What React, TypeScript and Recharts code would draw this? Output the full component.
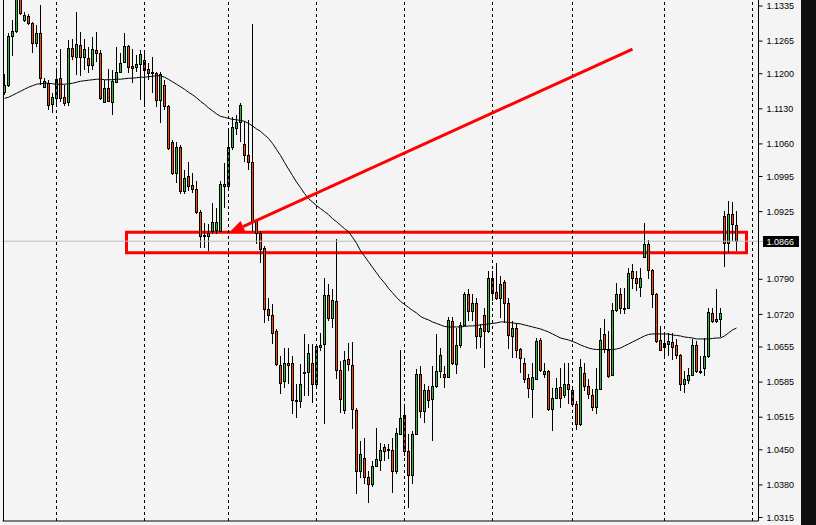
import { ComposedChart, Bar, Line, XAxis, YAxis, ReferenceLine, ReferenceArea } from 'recharts'

// EURUSD daily (oldest first)
const opens = [
  1.1163, 1.1177, 1.1275, 1.1285, 1.1352, 1.1307, 1.1315, 1.1301, 1.1261, 1.1281,
  1.1173, 1.1181, 1.1139, 1.1151, 1.1191, 1.1153, 1.1143, 1.1251, 1.1233, 1.1257,
  1.1233, 1.1231, 1.1217, 1.1247, 1.1241, 1.1143, 1.1171, 1.1143, 1.1183, 1.1203,
  1.1223, 1.1255, 1.1215, 1.1213, 1.1219, 1.1227, 1.1209, 1.1203, 1.1201, 1.1147,
  1.1177, 1.1135, 1.1063, 1.1001, 1.1053, 1.0967, 1.0997, 1.0979, 1.0971, 1.0925,
  1.0879, 1.0877, 1.0887, 1.0889, 1.0887, 1.0981, 1.0977, 1.1053, 1.1091, 1.1103,
  1.1059, 1.1037, 1.1023, 1.0907, 1.0883, 1.0853, 1.0731, 1.0719, 1.0687, 1.0619,
  1.0587, 1.0623, 1.0623, 1.0549, 1.0547, 1.0605, 1.0605, 1.0623, 1.0581, 1.0655,
  1.0661, 1.0759, 1.0713, 1.0747, 1.0609, 1.0529, 1.0631, 1.0619, 1.0529, 1.0407,
  1.0433, 1.0395, 1.0381, 1.0417, 1.0429, 1.0455, 1.0451, 1.0449, 1.0407, 1.0481,
  1.0519, 1.0447, 1.0399, 1.0481, 1.0601, 1.0527, 1.0569, 1.0551, 1.0577, 1.0607,
  1.0601, 1.0595, 1.0707, 1.0621, 1.0659, 1.0699, 1.0761, 1.0727, 1.0743, 1.0677,
  1.0719, 1.0687, 1.0793, 1.0765, 1.0753, 1.0785, 1.0743, 1.0677, 1.0693, 1.0651,
  1.0623, 1.0593, 1.0571, 1.0591, 1.0669, 1.0601, 1.0607, 1.0531, 1.0553, 1.0575,
  1.0559, 1.0581, 1.0569, 1.0541, 1.0501, 1.0603, 1.0577, 1.0559, 1.0535, 1.0571,
  1.0681, 1.0649, 1.0599, 1.0729, 1.0761, 1.0733, 1.0733, 1.0807, 1.0793, 1.0775,
  1.0835, 1.0861, 1.0809, 1.0761, 1.0669, 1.0655, 1.0661, 1.0665, 1.0659, 1.0639,
  1.0581, 1.0589, 1.0599, 1.0659, 1.0607, 1.0613, 1.0637, 1.0723, 1.0707, 1.0711,
  1.0917, 1.0863, 1.0921, 1.0899,
]

const highs = [
  1.1199, 1.1281, 1.1307, 1.1365, 1.1360, 1.1323, 1.1319, 1.1303, 1.1297, 1.1337,
  1.1191, 1.1187, 1.1161, 1.1205, 1.1249, 1.1177, 1.1267, 1.1269, 1.1323, 1.1283,
  1.1269, 1.1253, 1.1273, 1.1283, 1.1247, 1.1187, 1.1209, 1.1207, 1.1253, 1.1241,
  1.1281, 1.1257, 1.1249, 1.1237, 1.1247, 1.1241, 1.1221, 1.1233, 1.1203, 1.1203,
  1.1187, 1.1137, 1.1067, 1.1063, 1.1057, 1.1007, 1.1023, 1.1001, 1.0987, 1.0929,
  1.0903, 1.0901, 1.0943, 1.0933, 1.0987, 1.1021, 1.1091, 1.1113, 1.1117, 1.1141,
  1.1105, 1.1107, 1.1299, 1.0911, 1.0887, 1.0857, 1.0753, 1.0741, 1.0691, 1.0637,
  1.0653, 1.0653, 1.0637, 1.0581, 1.0621, 1.0681, 1.0661, 1.0661, 1.0661, 1.0683,
  1.0793, 1.0781, 1.0771, 1.0871, 1.0627, 1.0647, 1.0663, 1.0665, 1.0533, 1.0467,
  1.0473, 1.0407, 1.0427, 1.0493, 1.0463, 1.0461, 1.0461, 1.0473, 1.0493, 1.0649,
  1.0537, 1.0481, 1.0487, 1.0611, 1.0617, 1.0581, 1.0577, 1.0617, 1.0681, 1.0653,
  1.0617, 1.0715, 1.0715, 1.0693, 1.0705, 1.0765, 1.0771, 1.0761, 1.0753, 1.0701,
  1.0733, 1.0807, 1.0807, 1.0823, 1.0797, 1.0789, 1.0753, 1.0707, 1.0703, 1.0653,
  1.0633, 1.0601, 1.0623, 1.0673, 1.0673, 1.0623, 1.0609, 1.0573, 1.0593, 1.0613,
  1.0623, 1.0623, 1.0575, 1.0547, 1.0631, 1.0623, 1.0591, 1.0571, 1.0613, 1.0693,
  1.0711, 1.0687, 1.0743, 1.0783, 1.0773, 1.0773, 1.0813, 1.0821, 1.0807, 1.0813,
  1.0903, 1.0869, 1.0811, 1.0763, 1.0697, 1.0681, 1.0683, 1.0683, 1.0671, 1.0641,
  1.0607, 1.0613, 1.0671, 1.0667, 1.0637, 1.0673, 1.0733, 1.0733, 1.0771, 1.0733,
  1.0927, 1.0947, 1.0945, 1.0927,
]

const lows = [
  1.1157, 1.1173, 1.1235, 1.1281, 1.1318, 1.1303, 1.1297, 1.1241, 1.1253, 1.1177,
  1.1171, 1.1127, 1.1121, 1.1137, 1.1143, 1.1135, 1.1135, 1.1227, 1.1197, 1.1195,
  1.1207, 1.1201, 1.1207, 1.1223, 1.1147, 1.1143, 1.1145, 1.1117, 1.1181, 1.1201,
  1.1221, 1.1201, 1.1181, 1.1203, 1.1147, 1.1133, 1.1187, 1.1161, 1.1133, 1.1101,
  1.1127, 1.1047, 1.0999, 1.0983, 1.0961, 1.0961, 1.0967, 1.0963, 1.0921, 1.0853,
  1.0853, 1.0847, 1.0881, 1.0881, 1.0887, 1.0933, 1.0967, 1.1047, 1.1077, 1.1063,
  1.1023, 1.1007, 1.0887, 1.0861, 1.0823, 1.0703, 1.0707, 1.0661, 1.0617, 1.0561,
  1.0573, 1.0581, 1.0521, 1.0513, 1.0533, 1.0557, 1.0557, 1.0543, 1.0573, 1.0647,
  1.0501, 1.0707, 1.0693, 1.0591, 1.0523, 1.0521, 1.0607, 1.0491, 1.0361, 1.0393,
  1.0381, 1.0343, 1.0375, 1.0415, 1.0407, 1.0427, 1.0431, 1.0363, 1.0401, 1.0479,
  1.0437, 1.0333, 1.0381, 1.0479, 1.0513, 1.0503, 1.0533, 1.0467, 1.0573, 1.0593,
  1.0573, 1.0593, 1.0619, 1.0601, 1.0653, 1.0697, 1.0707, 1.0707, 1.0651, 1.0653,
  1.0613, 1.0683, 1.0747, 1.0749, 1.0713, 1.0703, 1.0651, 1.0633, 1.0633, 1.0603,
  1.0583, 1.0553, 1.0513, 1.0591, 1.0605, 1.0593, 1.0527, 1.0487, 1.0551, 1.0533,
  1.0553, 1.0541, 1.0537, 1.0489, 1.0497, 1.0567, 1.0551, 1.0527, 1.0521, 1.0569,
  1.0643, 1.0593, 1.0597, 1.0725, 1.0721, 1.0721, 1.0731, 1.0771, 1.0767, 1.0755,
  1.0833, 1.0791, 1.0733, 1.0663, 1.0647, 1.0631, 1.0637, 1.0629, 1.0631, 1.0567,
  1.0563, 1.0581, 1.0597, 1.0603, 1.0601, 1.0597, 1.0633, 1.0703, 1.0703, 1.0675,
  1.0815, 1.0843, 1.0867, 1.0847,
]

const closes = [
  1.1177, 1.1275, 1.1285, 1.1350, 1.1321, 1.1317, 1.1301, 1.1261, 1.1281, 1.1191,
  1.1185, 1.1137, 1.1153, 1.1189, 1.1151, 1.1141, 1.1251, 1.1235, 1.1259, 1.1233,
  1.1249, 1.1217, 1.1249, 1.1241, 1.1151, 1.1171, 1.1145, 1.1185, 1.1203, 1.1221,
  1.1255, 1.1213, 1.1211, 1.1219, 1.1239, 1.1207, 1.1201, 1.1201, 1.1147, 1.1199,
  1.1135, 1.1051, 1.1001, 1.1053, 1.0967, 1.0993, 1.0977, 1.0971, 1.0925, 1.0877,
  1.0877, 1.0883, 1.0905, 1.0905, 1.0981, 1.0977, 1.1053, 1.1093, 1.1103, 1.1137,
  1.1037, 1.1023, 1.0907, 1.0883, 1.0851, 1.0731, 1.0719, 1.0683, 1.0621, 1.0583,
  1.0623, 1.0619, 1.0549, 1.0547, 1.0581, 1.0605, 1.0643, 1.0581, 1.0657, 1.0659,
  1.0759, 1.0713, 1.0749, 1.0609, 1.0551, 1.0629, 1.0621, 1.0531, 1.0407, 1.0441,
  1.0395, 1.0381, 1.0417, 1.0431, 1.0449, 1.0447, 1.0451, 1.0407, 1.0483, 1.0513,
  1.0447, 1.0399, 1.0481, 1.0601, 1.0527, 1.0569, 1.0549, 1.0577, 1.0607, 1.0639,
  1.0595, 1.0709, 1.0623, 1.0659, 1.0699, 1.0761, 1.0727, 1.0743, 1.0677, 1.0693,
  1.0687, 1.0793, 1.0763, 1.0753, 1.0781, 1.0743, 1.0679, 1.0693, 1.0649, 1.0633,
  1.0591, 1.0573, 1.0595, 1.0667, 1.0609, 1.0607, 1.0531, 1.0553, 1.0573, 1.0553,
  1.0581, 1.0571, 1.0541, 1.0501, 1.0615, 1.0577, 1.0561, 1.0535, 1.0571, 1.0669,
  1.0651, 1.0597, 1.0729, 1.0761, 1.0733, 1.0733, 1.0803, 1.0793, 1.0783, 1.0793,
  1.0861, 1.0809, 1.0761, 1.0667, 1.0649, 1.0663, 1.0667, 1.0655, 1.0639, 1.0581,
  1.0591, 1.0599, 1.0659, 1.0607, 1.0605, 1.0637, 1.0725, 1.0707, 1.0711, 1.0723,
  1.0863, 1.0921, 1.0901, 1.0866,
]

// moving average line as drawn on the chart
const movingAvg = [
  1.1151, 1.1153, 1.1157, 1.1161, 1.1165, 1.1169, 1.1173, 1.1176, 1.1179, 1.1180,
  1.1181, 1.1181, 1.1180, 1.1179, 1.1179, 1.1179, 1.1180, 1.1181, 1.1183, 1.1185,
  1.1186, 1.1187, 1.1188, 1.1189, 1.1189, 1.1188, 1.1188, 1.1188, 1.1189, 1.1189,
  1.1190, 1.1191, 1.1191, 1.1192, 1.1193, 1.1193, 1.1194, 1.1195, 1.1196, 1.1196,
  1.1193, 1.1189, 1.1184, 1.1179, 1.1174, 1.1169, 1.1163, 1.1158, 1.1152, 1.1145,
  1.1139, 1.1132, 1.1126, 1.1120, 1.1115, 1.1113, 1.1111, 1.1109, 1.1108, 1.1107,
  1.1105, 1.1101, 1.1096, 1.1090, 1.1085, 1.1078, 1.1071, 1.1061, 1.1049, 1.1037,
  1.1023, 1.1010, 1.0997, 1.0984, 1.0973, 1.0961, 1.0951, 1.0944, 1.0937, 1.0931,
  1.0925, 1.0919, 1.0911, 1.0905, 1.0898, 1.0891, 1.0885, 1.0874, 1.0862, 1.0847,
  1.0836, 1.0825, 1.0814, 1.0803, 1.0792, 1.0783, 1.0772, 1.0763, 1.0754, 1.0746,
  1.0740, 1.0734, 1.0728, 1.0723, 1.0716, 1.0712, 1.0709, 1.0705, 1.0702, 1.0699,
  1.0696, 1.0695, 1.0695, 1.0695, 1.0695, 1.0696, 1.0697, 1.0697, 1.0698, 1.0699,
  1.0700, 1.0701, 1.0702, 1.0703, 1.0705, 1.0705, 1.0704, 1.0703, 1.0702, 1.0701,
  1.0699, 1.0697, 1.0695, 1.0693, 1.0691, 1.0688, 1.0685, 1.0681, 1.0677, 1.0673,
  1.0671, 1.0669, 1.0666, 1.0663, 1.0659, 1.0656, 1.0653, 1.0651, 1.0650, 1.0650,
  1.0650, 1.0650, 1.0650, 1.0651, 1.0653, 1.0657, 1.0661, 1.0665, 1.0669, 1.0673,
  1.0677, 1.0680, 1.0681, 1.0681, 1.0681, 1.0681, 1.0681, 1.0679, 1.0678, 1.0677,
  1.0675, 1.0674, 1.0673, 1.0671, 1.0671, 1.0671, 1.0671, 1.0672, 1.0673, 1.0673,
  1.0677, 1.0683, 1.0689, 1.0693,
]

const priceTicks = [
  1.1335, 1.1265, 1.12, 1.113, 1.106, 1.0995, 1.0925, 1.079, 1.072, 1.0655, 1.0585, 1.0515, 1.045, 1.038, 1.0315,
]
// bars where the period separators fall
const separators = [14, 36, 57, 79, 101, 123, 143, 166, 188]
const lastPrice = 1.0866
// hand-drawn zone and arrow
const zoneBars = [32, 186]
const zonePrices = [1.0843, 1.0884]
const arrowBars = [158, 57]
const arrowPrices = [1.1249, 1.0882]

// 184 bars plus some empty slots for the chart shift on the right
const slotCount = 189
const rows = Array.from({ length: slotCount }, (_, i) =>
  i < opens.length
    ? {
        slot: i + 1,
        open: opens[i],
        high: highs[i],
        low: lows[i],
        close: closes[i],
        range: [lows[i], highs[i]],
        ma: movingAvg[i],
      }
    : { slot: i + 1 }
)

const UP = '#33b833'
const DOWN = '#ff4500'
const FONT = '"Liberation Sans", Arial, sans-serif'

function Candle(props: any) {
  const { x, y, width, height, payload } = props
  if (!payload || payload.open == null) return null
  const { open, close, high, low } = payload
  const cx = Math.floor(x + width / 2) + 0.5
  const span = high - low || 1
  const py = (v: number) => y + ((high - v) / span) * height
  const top = Math.round(py(Math.max(open, close))) + 0.5
  const bottom = Math.round(py(Math.min(open, close))) + 0.5
  return (
    <g>
      <line x1={cx} x2={cx} y1={Math.round(y)} y2={Math.round(y + height)} stroke="#000" />
      <rect
        x={cx - 1}
        y={top}
        width={2}
        height={Math.max(bottom - top, 1)}
        fill={close >= open ? UP : DOWN}
        stroke="#000"
        strokeWidth={1}
      />
    </g>
  )
}

function Arrow(props: any) {
  const { x1, y1, x2, y2 } = props
  const dx = x2 - x1
  const dy = y2 - y1
  const len = Math.hypot(dx, dy) || 1
  const ux = dx / len
  const uy = dy / len
  const head = 16
  const half = 6
  const bx = x2 - ux * head
  const by = y2 - uy * head
  return (
    <g>
      <line x1={x1} y1={y1} x2={bx} y2={by} stroke="#ff0000" strokeWidth={3} />
      <polygon
        points={`${x2},${y2} ${bx - uy * half},${by + ux * half} ${bx + uy * half},${by - ux * half}`}
        fill="#ff0000"
      />
    </g>
  )
}

function PriceTag(props: any) {
  const vb = props.viewBox
  if (!vb) return null
  const x = vb.x + vb.width
  const y = Math.round(vb.y) + 0.5
  return (
    <g>
      <line x1={x} x2={x + 5} y1={y} y2={y} stroke="#bdbdbd" />
      <rect x={x + 4.5} y={y - 5.5} width={36} height={11} fill="#000" />
      <text x={x + 8} y={y + 3.5} fill="#fff" fontSize={9} fontFamily={FONT}>
        {lastPrice.toFixed(4)}
      </text>
    </g>
  )
}

export default function App() {
  return (
    <div style={{ position: 'absolute', left: 0, top: 0, width: 816, height: 525, background: '#f4f4f4' }}>
      <ComposedChart width={816} height={525} data={rows} margin={{ top: 0, right: 0, bottom: 0, left: 2.5 }}>
        <XAxis dataKey="slot" height={4} tick={false} tickLine={false} axisLine={{ stroke: '#000' }} />
        <YAxis
          orientation="right"
          width={57.5}
          domain={[1.0308, 1.1347]}
          allowDataOverflow
          ticks={priceTicks}
          interval={0}
          tickFormatter={(v: number) => v.toFixed(4)}
          tick={{ fill: '#000', fontSize: 9, fontFamily: FONT }}
          tickSize={4}
          tickMargin={4}
          axisLine={{ stroke: '#000' }}
          tickLine={{ stroke: '#000' }}
        />
        {separators.map((s) => (
          <ReferenceLine key={s} x={s} stroke="#000" strokeDasharray="3 3" />
        ))}
        <ReferenceLine y={lastPrice} stroke="#bdbdbd" label={PriceTag} />
        <Bar dataKey="range" shape={Candle} isAnimationActive={false} />
        <Line dataKey="ma" stroke="#000" strokeWidth={1} dot={false} activeDot={false} type="linear" isAnimationActive={false} />
        <ReferenceArea
          x1={zoneBars[0]}
          x2={zoneBars[1]}
          y1={zonePrices[0]}
          y2={zonePrices[1]}
          fill="none"
          stroke="#ff0000"
          strokeWidth={3}
        />
        <ReferenceLine
          segment={[
            { x: arrowBars[0], y: arrowPrices[0] },
            { x: arrowBars[1], y: arrowPrices[1] },
          ]}
          shape={Arrow}
        />
      </ComposedChart>
      <div style={{ position: 'absolute', left: 3, top: 0, width: 1, height: 521, background: '#000' }} />
      <div style={{ position: 'absolute', left: 801, top: 0, width: 15, height: 525, background: '#0e0e0e' }} />
    </div>
  )
}
